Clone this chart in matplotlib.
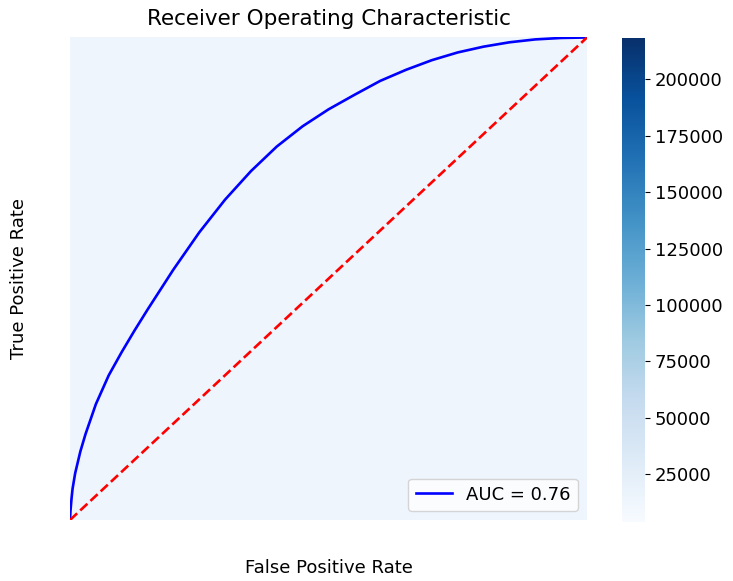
import numpy as np
import matplotlib
matplotlib.use("Agg")
import matplotlib.pyplot as plt

# ROC curve points
fpr = [0.0, 0.001, 0.003, 0.005, 0.01, 0.02, 0.03, 0.05, 0.075, 0.10, 0.125,
       0.15, 0.20, 0.25, 0.30, 0.35, 0.40, 0.45, 0.50, 0.55, 0.60, 0.65, 0.70,
       0.75, 0.80, 0.85, 0.90, 0.95, 1.0]
tpr = [0.0, 0.020, 0.045, 0.065, 0.097, 0.142, 0.178, 0.240, 0.300, 0.348, 0.393,
       0.436, 0.519, 0.596, 0.664, 0.723, 0.774, 0.816, 0.851, 0.881, 0.910, 0.933,
       0.953, 0.969, 0.981, 0.990, 0.996, 0.999, 1.0]
auc_label = "AUC = 0.76"

# background heatmap cells and colour range
heat_values = [[13000, 13000], [13000, 13000]]
heat_vmin = 3700
heat_vmax = 218600
cbar_ticks = [25000, 50000, 75000, 100000, 125000, 150000, 175000, 200000]

fig = plt.figure(figsize=(7.33, 5.81), dpi=100)
ax = fig.add_axes([0.0955, 0.105, 0.7053, 0.8305])
cax = fig.add_axes([0.8486, 0.1015, 0.0314, 0.8339])

im = ax.imshow(np.array(heat_values), cmap="Blues", vmin=heat_vmin, vmax=heat_vmax,
               extent=[0, 1, 0, 1], aspect="auto", origin="lower")

ax.plot(fpr, tpr, color="blue", lw=1.9, label=auc_label)
ax.plot([0, 1], [0, 1], color="red", lw=1.9, linestyle="--")
ax.set_xlim(0, 1)
ax.set_ylim(0, 1)

for s in ax.spines.values():
    s.set_visible(False)
ax.set_xticks([])
ax.set_yticks([])

ax.set_title("Receiver Operating Characteristic", fontsize=15.5, pad=9)
ax.set_xlabel("False Positive Rate", fontsize=13, labelpad=28)
ax.set_ylabel("True Positive Rate", fontsize=13, labelpad=30)
ax.legend(loc="lower right", fontsize=13)

cb = fig.colorbar(im, cax=cax)
cb.outline.set_visible(False)
cb.set_ticks(cbar_ticks)
cb.ax.tick_params(labelsize=13)

fig.savefig("out.png", dpi=100)
